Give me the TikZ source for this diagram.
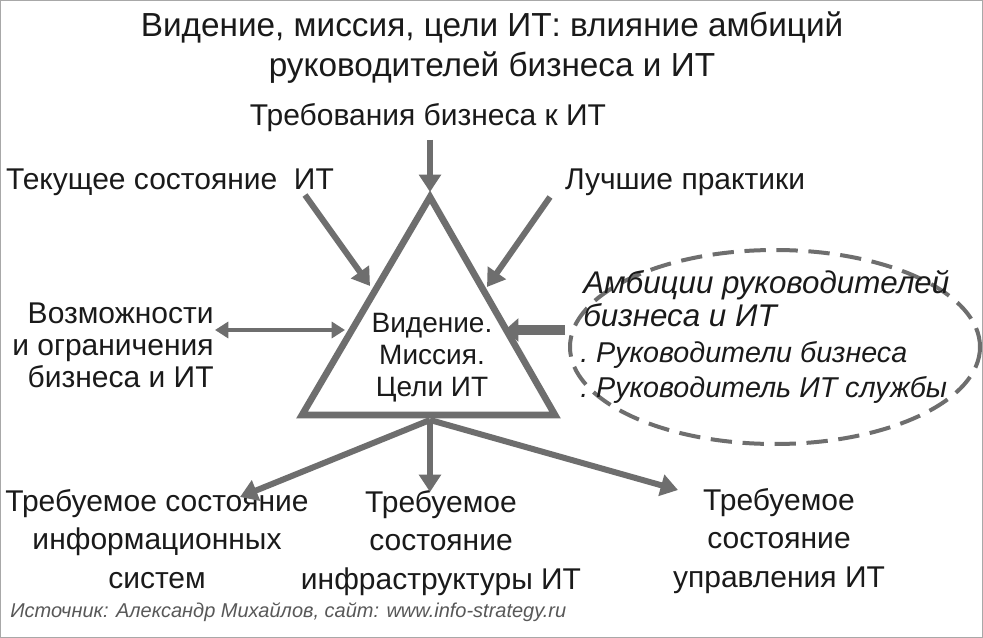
\documentclass[tikz,border=0pt]{standalone}
\usepackage{fontspec}
\setmainfont{Liberation Sans}
\usetikzlibrary{arrows.meta}
\definecolor{ln}{HTML}{6E6E6E}
\definecolor{tx}{HTML}{1A1A1A}
\begin{document}
\begin{tikzpicture}[x=0.75pt,y=-0.75pt,
  lbl/.style={text=tx,font=\fontsize{22.5}{26}\selectfont,align=center,inner sep=0},
  arr/.style={draw=ln,line width=4.5pt,-{Triangle[length=13pt,width=16pt]}},
  darr/.style={draw=ln,line width=3pt,{Triangle[length=10pt,width=12pt]}-{Triangle[length=10pt,width=12pt]}}]
\useasboundingbox[fill=white] (0,0) rectangle (983,638);
\draw[ln!60] (0.5,0.5) rectangle (982.5,637.5);
\node[lbl,font=\fontsize{25}{30}\selectfont] (title) at (492,48) {Видение, миссия, цели ИТ: влияние амбиций\\руководителей бизнеса и ИТ};
\draw[ln,line width=5pt,line join=miter] (430,197) -- (302,415) -- (555,415) -- cycle;
\coordinate (bot) at (430,420);
\node[lbl,font=\fontsize{21}{24}\selectfont] (vm) at (432,358) {Видение.\\Миссия.\\Цели ИТ};
\node[lbl] (req) at (428,118) {Требования бизнеса к ИТ};
\node[lbl] (cur) at (170,182) {Текущее состояние\ \ ИТ};
\node[lbl] (best) at (685,182) {Лучшие практики};
\node[lbl,align=right,font=\fontsize{22.5}{24}\selectfont] (pos) at (113,345) {Возможности\\и ограничения\\бизнеса и ИТ};
\coordinate (posE) at (215,330);
\coordinate (posT) at (345,330);
\draw[darr] (posE) -- (posT);
\coordinate (reqS) at (430,140); \coordinate (reqT) at (430,192);
\draw[arr] (reqS) -- (reqT);
\coordinate (curS) at (305,195); \coordinate (curT) at (370,286);
\draw[arr] (curS) -- (curT);
\coordinate (bestS) at (550,197); \coordinate (bestT) at (487,287);
\draw[arr] (bestS) -- (bestT);
\coordinate (ambS) at (565,330); \coordinate (ambT) at (505,330);
\draw[draw=ln,line width=7pt,-{Triangle[length=10pt,width=17pt]}] (ambS) -- (ambT);
\draw[ln,line width=3pt,dash pattern=on 16pt off 8pt] (775,347) ellipse [x radius=205, y radius=97];
\node[lbl,align=left,anchor=north west,font=\itshape\fontsize{23.5}{25}\selectfont] (amb) at (583,270) {Амбиции руководителей\\бизнеса и ИТ};
\node[lbl,align=left,anchor=west,font=\itshape\fontsize{21.5}{22}\selectfont] (b1) at (580,355) {.\ Руководители бизнеса};
\node[lbl,align=left,anchor=west,font=\itshape\fontsize{21.5}{22}\selectfont] (b2) at (580,390) {.\ Руководитель ИТ службы};
\node[lbl,font=\fontsize{22.5}{29}\selectfont] (o1) at (157,539) {Требуемое состояние\\информационных\\систем};
\node[lbl,font=\fontsize{22.5}{29}\selectfont] (o2) at (441,543) {Требуемое\\состояние\\инфраструктуры ИТ};
\node[lbl,font=\fontsize{22.5}{29}\selectfont] (o3) at (779,541) {Требуемое\\состояние\\управления ИТ};
\coordinate (t1) at (240,497); \coordinate (t2) at (430,492); \coordinate (t3) at (678,490);
\draw[arr] (bot) -- (t1);
\draw[arr] (bot) -- (t2);
\draw[arr] (bot) -- (t3);
\node[lbl,anchor=west,font=\itshape\fontsize{15}{16}\selectfont,text=ln!80!black] (src) at (10,612) {Источник: Александр Михайлов, сайт: www.info-strategy.ru};
\end{tikzpicture}
\end{document}
